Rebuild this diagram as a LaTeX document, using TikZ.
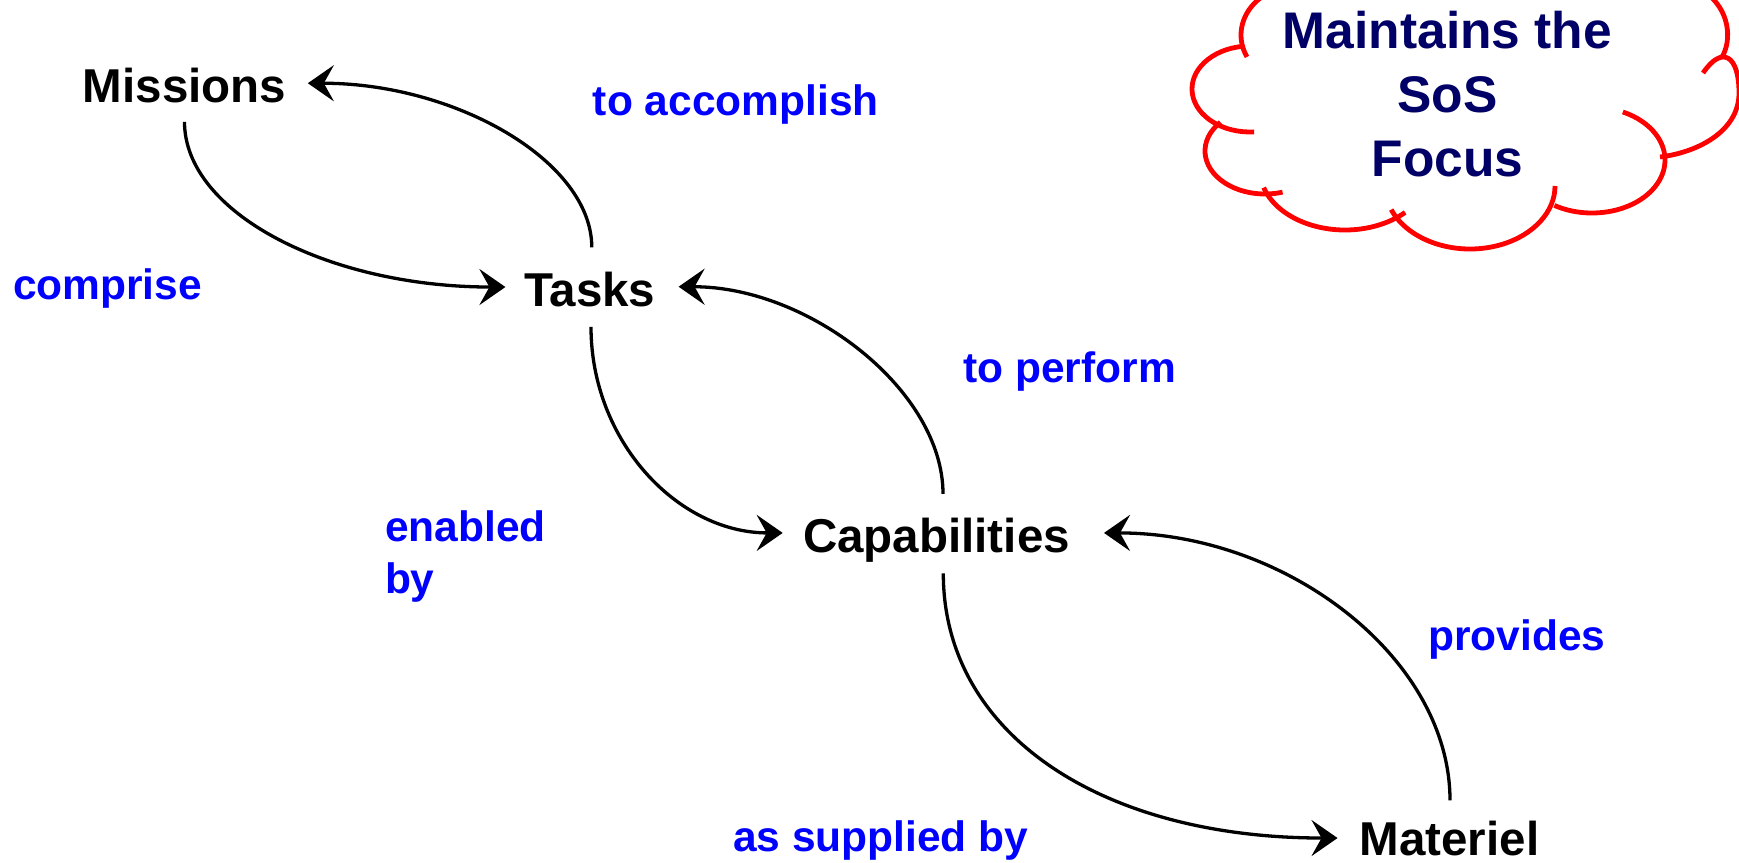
\documentclass[tikz,border=0pt]{standalone}
\usepackage{fontspec}
\setmainfont{Liberation Sans}
\usetikzlibrary{arrows.meta}
\definecolor{relblue}{RGB}{0,0,255}
\definecolor{focusnavy}{RGB}{0,0,102}
\definecolor{cloudred}{RGB}{255,0,0}

\begin{document}
\begin{tikzpicture}[x=1pt,y=-1pt,
  term/.style={font=\fontsize{47.5pt}{57pt}\selectfont\bfseries, inner sep=0pt, anchor=base},
  rel/.style={font=\fontsize{42.5pt}{52.3pt}\selectfont\bfseries, text=relblue, inner sep=0pt, anchor=base},
  flow/.style={line width=3.3pt, -{Stealth[length=26pt,width=36pt,inset=10pt]}},
  bump/.style={draw=cloudred, line width=4.8pt}]
\useasboundingbox (0,0) rectangle (1739,862);
\clip (0,0) rectangle (1739,862);

% concept terms
\node[term] (missions) at (184.5,102.7) {Missions};
\node[term] (tasks) at (589.8,306.7) {Tasks};
\node[term] (capab) at (936.5,552) {Capabilities};
\node[term] (materiel) at (1449.5,855) {Materiel};

% relation labels
\node[rel] (accomplish) at (735.8,115.3) {to accomplish};
\node[rel] (comprise) at (107.6,299.4) {comprise};
\node[rel] (perform) at (1069.6,382.6) {to perform};
\node[rel, anchor=north west, align=left] (enabled) at (384.8,510.6) {enabled\\by};
\node[rel] (provides) at (1517,650) {provides};
\node[rel] (supplied) at (880.6,851.7) {as supplied by};

% curved relations
\draw[flow] ([xshift=2pt,yshift=24.7pt]tasks.north) .. controls +(0,-86) and +(148,0) .. ([xshift=21.5pt,yshift=2.5pt]missions.east);
\draw[flow] ([yshift=-18.5pt]missions.south) .. controls +(0,91.4) and +(-175.8,0) .. ([xshift=-18.6pt,yshift=2.7pt]tasks.west);
\draw[flow] ([xshift=6.5pt,yshift=23.5pt]capab.north) .. controls +(0,-103) and +(131,0) .. ([xshift=23pt,yshift=3pt]tasks.east);
\draw[flow] ([xshift=1.2pt,yshift=-19.6pt]tasks.south) .. controls +(0,113.7) and +(-105.3,0) .. ([xshift=-20.3pt,yshift=6.8pt]capab.west);
\draw[flow] ([xshift=0.5pt,yshift=20pt]materiel.north) .. controls +(0,-142) and +(183,0) .. ([xshift=34pt,yshift=6.8pt]capab.east);
\draw[flow] ([xshift=6.8pt,yshift=-11.4pt]capab.south) .. controls +(0,160) and +(-237,0) .. ([xshift=-22pt,yshift=0pt]materiel.west);

% cloud outline, one arc per bump
\draw[bump] ([shift={(154:59 and 50)}]1300,35) arc[start angle=154, end angle=250, x radius=59, y radius=50];
\draw[bump] ([shift={(263:58 and 43)}]1250,89) arc[start angle=263, end angle=86, x radius=58, y radius=43];
\draw[bump] ([shift={(222:60 and 43)}]1265,151) arc[start angle=222, end angle=73, x radius=60, y radius=43];
\draw[bump] ([shift={(163:85 and 60)}]1345,170) arc[start angle=163, end angle=45, x radius=85, y radius=60];
\draw[bump] ([shift={(158:85 and 63)}]1470,186) arc[start angle=158, end angle=0, x radius=85, y radius=63];
\draw[bump] ([shift={(121:73 and 53)}]1592,160) arc[start angle=121, end angle=-65, x radius=73, y radius=53];
\draw[bump] (1660,157) .. controls (1700,152) and (1739,130) .. (1739,93)
             .. controls (1739,55) and (1722,45) .. (1703,73);
\draw[bump] (1722,57) .. controls (1732,40) and (1730,10) .. (1705,-8);

\node[font=\fontsize{51.5pt}{64pt}\selectfont\bfseries, text=focusnavy, align=center, inner sep=0pt, anchor=north] (focus) at (1447.5,11.4) {Maintains the\\SoS\\Focus};
\end{tikzpicture}
\end{document}
